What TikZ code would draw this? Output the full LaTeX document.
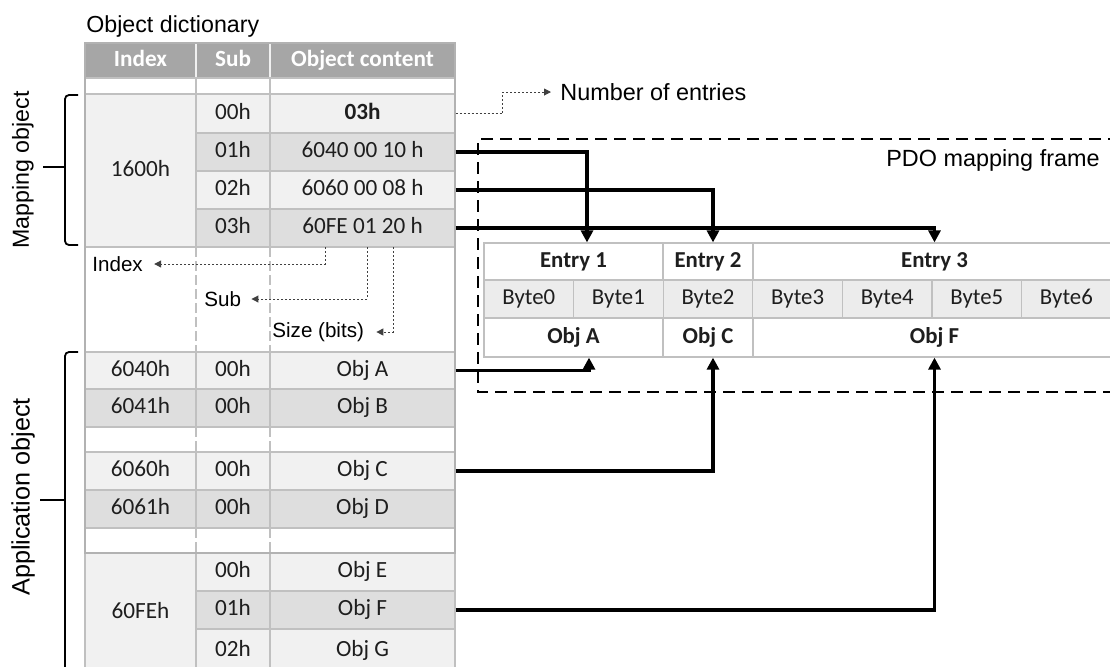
\documentclass[tikz,border=0pt]{standalone}
\usepackage{fontspec}
\setmainfont{Carlito}
\newfontfamily\lblfont{Liberation Sans}
\usetikzlibrary{arrows.meta}

\definecolor{hdrgray}{RGB}{166,166,166}
\definecolor{rowlight}{RGB}{241,241,241}
\definecolor{rowdark}{RGB}{222,222,222}
\definecolor{gridgray}{RGB}{192,192,192}
\definecolor{framegray}{RGB}{178,178,178}
\definecolor{bytegray}{RGB}{236,236,236}
\definecolor{celltext}{RGB}{30,30,30}

% table cell: name, x1, y1, x2, y2 (pixels), extra style, text
\newcommand{\dcell}[7]{%
  \node [cell, #6, minimum width={((#4)-(#2))*0.5pt}, minimum height={((#5)-(#3))*0.5pt}]
    (#1) at ({((#2)+(#4))/2},{((#3)+(#5))/2}) {#7};}

\begin{document}
\begin{tikzpicture}[x=0.5pt, y=-0.5pt,
    cell/.style={draw=gridgray, line width=0.6pt, inner sep=0pt, text=celltext,
      text height=0.66em, text depth=0.08em, font=\fontsize{11.6}{14}\selectfont},
    head/.style={fill=hdrgray, draw=rowlight, text=white, font=\fontsize{11.6}{14}\selectfont\bfseries},
    light/.style={fill=rowlight},
    dark/.style={fill=rowdark},
    blank/.style={fill=white},
    entry/.style={fill=white, font=\fontsize{11.4}{14}\selectfont\bfseries},
    bytes/.style={fill=bytegray, font=\fontsize{11.4}{14}\selectfont},
    lbl/.style={inner sep=0pt, text=black, font=\lblfont\fontsize{10.3}{12}\selectfont},
    link/.style={line width=1.8pt, -{Triangle[length=6pt,width=6pt]}},
    hint/.style={line width=0.5pt, black!75, dash pattern=on 1pt off 1pt,
      -{Triangle[length=3.5pt,width=3.5pt]}},
    gapline/.style={gridgray, line width=0.6pt, dash pattern=on 5pt off 2pt}]
  \useasboundingbox (0,0) rectangle (1110,666);

  % Object dictionary title
  \node [lbl, font=\lblfont\fontsize{11.6}{14}\selectfont, anchor=base west] (odtitle) at (86,32) {Object dictionary};

  % Header and empty row
  \dcell{hidx}{85}{43}{196}{78}{head}{Index}
  \dcell{hsub}{196}{43}{270}{78}{head}{Sub}
  \dcell{hcon}{270}{43}{455}{78}{head}{Object content}
  \dcell{eidx}{85}{78}{196}{94}{blank}{}
  \dcell{esub}{196}{78}{270}{94}{blank}{}
  \dcell{econ}{270}{78}{455}{94}{blank}{}

  % Mapping object 1600h
  \dcell{i1600}{85}{94}{196}{247}{light}{1600h}
  \dcell{s00}{196}{94}{270}{133}{light}{00h}
  \dcell{c00}{270}{94}{455}{133}{light}{\textbf{03h}}
  \dcell{s01}{196}{133}{270}{171}{dark}{01h}
  \dcell{c01}{270}{133}{455}{171}{dark}{6040 00 10 h}
  \dcell{s02}{196}{171}{270}{209}{light}{02h}
  \dcell{c02}{270}{171}{455}{209}{light}{6060 00 08 h}
  \dcell{s03}{196}{209}{270}{247}{dark}{03h}
  \dcell{c03}{270}{209}{455}{247}{dark}{60FE 01 20 h}

  % Application objects
  \dcell{i6040}{85}{352}{196}{389}{light}{6040h}
  \dcell{s6040}{196}{352}{270}{389}{light}{00h}
  \dcell{objA}{270}{352}{455}{389}{light}{Obj A}
  \dcell{i6041}{85}{389}{196}{427}{dark}{6041h}
  \dcell{s6041}{196}{389}{270}{427}{dark}{00h}
  \dcell{objB}{270}{389}{455}{427}{dark}{Obj B}
  \dcell{i6060}{85}{452}{196}{490}{light}{6060h}
  \dcell{s6060}{196}{452}{270}{490}{light}{00h}
  \dcell{objC}{270}{452}{455}{490}{light}{Obj C}
  \dcell{i6061}{85}{490}{196}{528}{dark}{6061h}
  \dcell{s6061}{196}{490}{270}{528}{dark}{00h}
  \dcell{objD}{270}{490}{455}{528}{dark}{Obj D}
  \dcell{i60FE}{85}{553}{196}{672}{light}{60FEh}
  \dcell{sFE0}{196}{553}{270}{591}{light}{00h}
  \dcell{objE}{270}{553}{455}{591}{light}{Obj E}
  \dcell{sFE1}{196}{591}{270}{629}{dark}{01h}
  \dcell{objF}{270}{591}{455}{629}{dark}{Obj F}
  \dcell{sFE2}{196}{629}{270}{672}{light}{02h}
  \dcell{objG}{270}{629}{455}{672}{light}{Obj G}

  % gaps in the dictionary
  \foreach \ya/\yb in {247/352, 427/452, 528/553}
    \foreach \xd in {196, 270}
      \draw [gapline] (\xd,\ya) -- (\xd,\yb);
  \draw [framegray, line width=0.7pt] (85,43) rectangle (455,553);

  % meaning of a mapping entry
  \node [lbl, anchor=west] (idxlbl) at (92,264) {Index};
  \node [lbl, anchor=west] (sublbl) at (204,299) {Sub};
  \node [lbl, anchor=west] (sizelbl) at (272,332) {Size (bits)};
  \coordinate (tapidx) at (325,247);
  \coordinate (tapsub) at (367,247);
  \coordinate (tapsize) at (393,247);
  \draw [hint] (tapidx) |- ([xshift=5.5pt]idxlbl.east);
  \draw [hint] (tapsub) |- ([xshift=5pt]sublbl.east);
  \draw [hint] (tapsize) |- ([xshift=6pt]sizelbl.east);

  % number of entries
  \node [lbl, font=\lblfont\fontsize{11.7}{14}\selectfont, anchor=west] (nument) at (560,92) {Number of entries};
  \draw [hint] (c00.east) -- ++(47,0) |- ([xshift=-4.5pt]nument.west);

  % PDO mapping frame
  \draw [line width=0.8pt, dash pattern=on 6pt off 3.5pt] (1120,139) -- (478,139) -- (478,392) -- (1120,392);
  \node [lbl, font=\lblfont\fontsize{11.7}{14}\selectfont, anchor=base east] (pdolbl) at (1100,166.5) {PDO mapping frame};

  \dcell{ent1}{484}{243}{663}{280}{entry}{Entry 1}
  \dcell{ent2}{663}{243}{753}{280}{entry}{Entry 2}
  \dcell{ent3}{753}{243}{1116}{280}{entry}{Entry 3}
  \foreach \i in {0,...,6} {
    \dcell{byte\i}{484+89.6*\i}{280}{573.6+89.6*\i}{318}{bytes}{Byte\i}
  }
  \dcell{slotA}{484}{318}{663}{357}{entry}{Obj A}
  \dcell{slotC}{663}{318}{753}{357}{entry}{Obj C}
  \dcell{slotF}{753}{318}{1116}{357}{entry}{Obj F}

  % mapping links
  \draw [link] (c01.east) -| ([xshift=6.75pt]ent1.north);
  \draw [link] (c02.east) -| ([xshift=2.5pt]ent2.north);
  \draw [link] (c03.east) -| (ent3.north);
  \draw [link] (objA.east) -| ([xshift=7.75pt]slotA.south);
  \draw [link] (objC.east) -| ([xshift=2.5pt]slotC.south);
  \draw [link] (objF.east) -| (slotF.south);

  % brackets on the left
  \draw [line width=0.9pt, rounded corners=2pt] (78,95) -- (65,95) -- (65,245) -- (78,245);
  \draw [line width=0.9pt] (43,167) -- (65,167);
  \node [lbl, font=\lblfont\fontsize{11.6}{14}\selectfont, rotate=90] (maplbl) at (23,170) {Mapping object};
  \draw [line width=0.9pt, rounded corners=2pt] (78,352) -- (65,352) -- (65,690);
  \draw [line width=0.9pt] (40,500) -- (65,500);
  \node [lbl, font=\lblfont\fontsize{12.6}{15}\selectfont, rotate=90] (applbl) at (23,497) {Application object};
\end{tikzpicture}
\end{document}
